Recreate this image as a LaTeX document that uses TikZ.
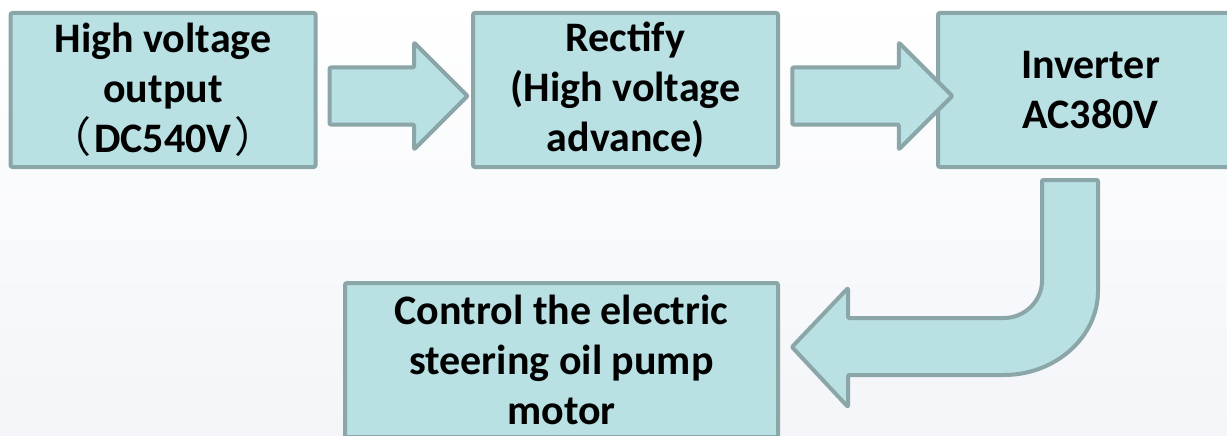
\documentclass[tikz,border=0pt]{standalone}
\usepackage{fontspec}
\setmainfont{Carlito}
\newfontfamily\cjk{Noto Sans CJK SC}
\usetikzlibrary{shapes.arrows,positioning,calc}
\definecolor{boxfill}{RGB}{185,224,227}
\definecolor{boxline}{RGB}{138,166,168}
\definecolor{bgbottom}{RGB}{243,245,249}
\tikzset{
    block/.style     = {rectangle, draw=boxline, fill=boxfill, line width=4pt, rounded corners=2pt,
                        minimum width=305pt, minimum height=154pt, inner sep=0pt, align=center,
                        font=\fontsize{42}{50}\selectfont\bfseries},
    flowarrow/.style = {single arrow, draw=boxline, fill=boxfill, line width=4pt, line join=round,
                        rounded corners=1pt, inner sep=26.5pt, single arrow head extend=25pt},
    bentarrow/.style = {draw=boxline, fill=boxfill, line width=4pt, line join=round, rounded corners=1pt}
}
\begin{document}
\begin{tikzpicture}[x=1pt, y=-1pt]

    % --- Page and background ---
    \useasboundingbox (0,0) rectangle (1227,436);
    \shade[top color=white, middle color=white, bottom color=bgbottom] (0,0) rectangle (1227,436);

    % --- Blocks ---
    \node[block] (hv_out) at (163, 90) {High voltage\\output\\{\cjk\mdseries （}\kern3pt DC540V\kern3pt{\cjk\mdseries ）}};
    \node[block] (rectify) at (625.5, 90) {Rectify\\(High voltage\\advance)};
    \node[block] (inverter) at (1090.5, 90) {Inverter\\AC380V};
    \node[block, minimum width=433pt] (pump_motor) at (561.5, 360) {Control the electric\\steering oil pump\\motor};

    % --- Straight block arrows ---
    \node[flowarrow, minimum height=138pt, right=10pt of hv_out, yshift=-6pt] (arr_rect) {};
    \node[flowarrow, minimum height=160pt, yshift=-6pt] (arr_inv) at ($(rectify.east)!0.5!(inverter.west)$) {};

    % --- Bent arrow (Inverter down to motor control) ---
    \draw[bentarrow] (1042,180) -- (1098,180) -- (1098,290) arc[start angle=0, end angle=90, x radius=95, y radius=85]
        -- (848,375) -- (848,407) -- (792,347) -- (848,288) -- (848,318) -- (1003,318)
        arc[start angle=90, end angle=0, x radius=39, y radius=38] -- cycle;

\end{tikzpicture}
\end{document}
